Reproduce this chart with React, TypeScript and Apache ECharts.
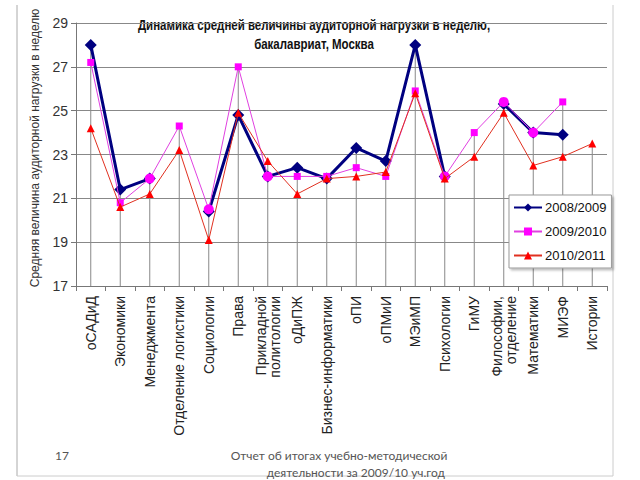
import React, { useEffect, useRef } from "react";
import * as echarts from "echarts";

const categories = [
  "оСАДиД", "Экономики", "Менеджмента", "Отделение логистики", "Социологии", "Права",
  "Прикладной\nполитологии", "оДиПЖ", "Бизнес-информатики", "оПИ", "оПМиИ", "МЭиМП",
  "Психологии", "ГиМУ", "Философии,\nотделение", "Математики", "МИЭФ", "Истории",
];
const s2008 = [28.0, 21.4, 21.9, null, 20.4, 24.8, 22.0, 22.4, 21.9, 23.3, 22.7, 28.0, 22.0, null, 25.3, 24.0, 23.9, null];
const s2009 = [27.2, 20.8, 21.9, 24.3, 20.5, 27.0, 22.0, 22.0, 22.0, 22.4, 22.0, 25.9, 22.0, 24.0, 25.4, 24.0, 25.4, null];
const s2010 = [24.2, 20.6, 21.2, 23.2, 19.1, 24.9, 22.7, 21.2, 21.9, 22.0, 22.2, 25.8, 21.9, 22.9, 24.9, 22.5, 22.9, 23.5];
const circleIdx2009 = [2, 4, 6, 12, 14, 15];
const seriesNames = ["2008/2009", "2009/2010", "2010/2011"];
const yTicks = { min: 17, max: 29, step: 2 };
const titleLines = ["Динамика средней величины аудиторной нагрузки в неделю,", "бакалавриат, Москва"];
const yTitle = "Средняя величина аудиторной нагрузки в неделю";
const footer = ["17", "Отчет об итогах учебно-методической", "деятельности за 2009/10 уч.год"];

export default function App() {
  const ref = useRef<HTMLDivElement>(null);
  useEffect(() => {
    const chart = echarts.init(ref.current!, null, { renderer: "svg" });
    const dropMax = categories.map((_, i) => {
      const vals = [s2008[i], s2009[i], s2010[i]].filter((v) => v !== null) as number[];
      return vals.length ? Math.max(...vals) : null;
    });
    const font = "Liberation Sans, Arial, sans-serif";
    const titleFont = "bold 14px 'Liberation Sans', Arial, sans-serif";
    chart.setOption({
      animation: false,
      backgroundColor: "#fff",
      grid: { left: 76, right: 33, top: 23, bottom: 194, containLabel: false },
      legend: {
        data: seriesNames,
        orient: "vertical",
        left: 509,
        top: 195,
        padding: [6, 5, 6, 4],
        itemWidth: 28,
        itemHeight: 10,
        itemGap: 11,
        backgroundColor: "#fff",
        borderColor: "#999",
        borderWidth: 1,
        shadowColor: "rgba(0,0,0,0.25)",
        shadowOffsetX: 2,
        shadowOffsetY: 2,
        shadowBlur: 2,
        textStyle: { fontFamily: font, fontSize: 13, color: "#111", padding: [0, 0, 0, -2] },
      },
      xAxis: {
        type: "category",
        data: categories,
        boundaryGap: true,
        axisLine: { lineStyle: { color: "#777", width: 1 } },
        axisTick: { show: true, length: 5, lineStyle: { color: "#777" } },
        axisLabel: {
          rotate: 90,
          interval: 0,
          margin: 10,
          fontFamily: font,
          fontSize: 14,
          color: "#222",
          lineHeight: 14,
        },
        splitLine: { show: false },
      },
      yAxis: {
        type: "value",
        min: yTicks.min,
        max: yTicks.max,
        interval: yTicks.step,
        axisLine: { show: true, lineStyle: { color: "#777" } },
        axisTick: { show: true, length: 5, lineStyle: { color: "#777" } },
        axisLabel: { fontFamily: font, fontSize: 14, color: "#333", margin: 8 },
        splitLine: { show: true, lineStyle: { color: "#888", width: 1 } },
      },
      series: [
        {
          name: "drop",
          type: "bar",
          data: dropMax,
          barWidth: 1,
          silent: true,
          itemStyle: { color: "#888" },
          z: 1,
        },
        {
          name: seriesNames[0],
          type: "line",
          data: s2008,
          symbol: "diamond",
          symbolSize: 12,
          connectNulls: false,
          lineStyle: { color: "#000080", width: 3 },
          itemStyle: { color: "#000080" },
          z: 3,
        },
        {
          name: seriesNames[1],
          type: "line",
          data: s2009.map((v, i) =>
            circleIdx2009.includes(i) ? { value: v, symbol: "circle", symbolSize: 10 } : v
          ),
          symbol: "rect",
          symbolSize: 7,
          lineStyle: { color: "#E040E0", width: 1 },
          itemStyle: { color: "#FF00FF" },
          z: 4,
        },
        {
          name: seriesNames[2],
          type: "line",
          data: s2010,
          symbol: "triangle",
          symbolSize: 8,
          lineStyle: { color: "#E03020", width: 1 },
          itemStyle: { color: "#FF0000" },
          z: 5,
        },
      ],
      graphic: [
        { type: "line", shape: { x1: 17, y1: 5, x2: 17, y2: 476 }, style: { stroke: "#aaa", lineWidth: 1 } },
        { type: "line", shape: { x1: 613, y1: 5, x2: 613, y2: 476 }, style: { stroke: "#ccc", lineWidth: 1 } },
        { type: "line", shape: { x1: 17, y1: 476, x2: 613, y2: 476 }, style: { stroke: "#ccc", lineWidth: 1 } },
        {
          type: "text",
          x: 314,
          y: 25,
          scaleX: 0.82,
          style: {
            text: titleLines[0],
            font: titleFont,
            fill: "#111",
            textAlign: "center",
            textVerticalAlign: "middle",
          },
        },
        {
          type: "text",
          x: 314,
          y: 44,
          scaleX: 0.82,
          style: {
            text: titleLines[1],
            font: titleFont,
            fill: "#111",
            textAlign: "center",
            textVerticalAlign: "middle",
          },
        },
        {
          type: "text",
          x: 35,
          y: 148,
          rotation: Math.PI / 2,
          style: {
            text: yTitle,
            font: "12px 'Liberation Sans', Arial, sans-serif",
            fill: "#333",
            textAlign: "center",
            textVerticalAlign: "middle",
          },
        },
        {
          type: "text",
          x: 55,
          y: 455,
          style: { text: footer[0], font: "12px Lato, sans-serif", fill: "#555", textAlign: "left", textVerticalAlign: "middle" },
        },
        {
          type: "text",
          x: 339,
          y: 455,
          style: { text: footer[1], font: "12px Lato, sans-serif", fill: "#555", textAlign: "center", textVerticalAlign: "middle" },
        },
        {
          type: "text",
          x: 445,
          y: 472,
          style: { text: footer[2], font: "12px Lato, sans-serif", fill: "#555", textAlign: "right", textVerticalAlign: "middle" },
        },
      ],
    });
    return () => chart.dispose();
  }, []);
  return (
    <div
      ref={ref}
      style={{ position: "fixed", left: 0, top: 0, width: 640, height: 480, background: "#fff" }}
    />
  );
}
